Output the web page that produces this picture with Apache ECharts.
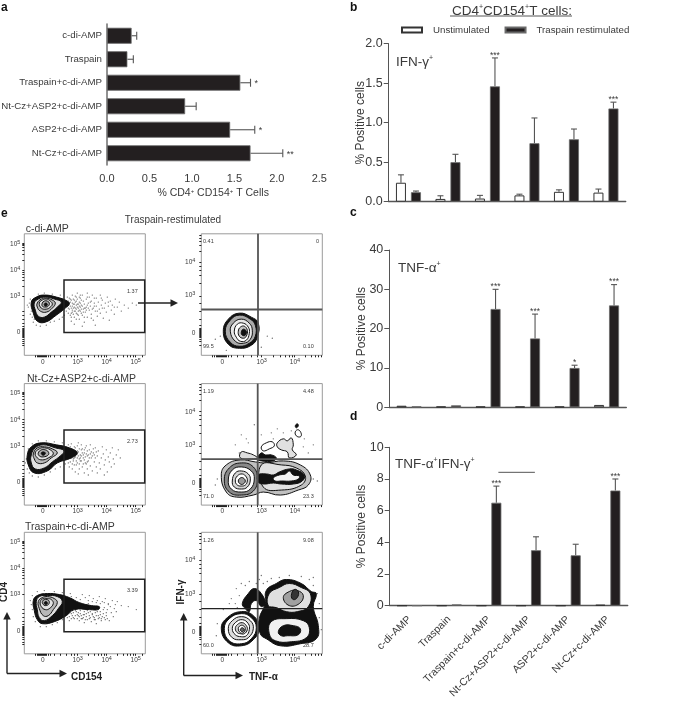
<!DOCTYPE html>
<html><head><meta charset="utf-8">
<style>html,body{margin:0;padding:0;background:#fff}#c{width:700px;height:701px}</style>
<script src="https://cdn.jsdelivr.net/npm/echarts@6/dist/echarts.min.js"></script>
</head><body><div id="c"></div>
<script>
// ---------- bar data ----------
const categories = ['c-di-AMP','Traspain','Traspain+c-di-AMP','Nt-Cz+ASP2+c-di-AMP','ASP2+c-di-AMP','Nt-Cz+c-di-AMP'];
const aValues = [0.29,0.24,1.57,0.92,1.45,1.69];
const aErrTop = [0.35,0.31,1.69,1.05,1.74,2.07];
const aStars  = ['','','*','','*','**'];
const bUnstim = [0.24,0.035,0.04,0.08,0.125,0.115];
const bUnstimTop = [0.34,0.075,0.08,0.095,0.15,0.16];
const bStim   = [0.12,0.50,1.46,0.74,0.79,1.18];
const bStimTop= [0.135,0.60,1.82,1.06,0.92,1.26];
const bStars  = ['','','***','','','***'];
const cUnstim = [0.4,0.2,0.2,0.2,0.2,0.6];
const cUnstimTop = [0.4,0.2,0.2,0.2,0.2,0.6];
const cStim   = [0.25,0.5,25,17.5,10,25.9];
const cStimTop= [0.25,0.5,30,23.7,10.7,31.2];
const cStars  = ['','','***','***','*','***'];
const dUnstim = [0,0,0,0,0,0.06];
const dUnstimTop = [0,0,0,0,0,0.06];
const dStim   = [0,0.08,6.5,3.5,3.18,7.27];
const dStimTop= [0,0.08,7.55,4.35,3.88,8.0];
const dStars  = ['','','***','','','***'];
const dBracket = [[2.24,8.42],[3.16,8.42]];

// ---------- flow plot data (display channel units, 0-121) ----------
const leftXTicks = [18.4,53.4,82.4,111.4];
const leftYTicks = [23,59,85,111];
const rightXTicks = [21,60.4,93.7];
const rightYTicks = [22,59.6,93];
const tickText = ['0','10{s|3}','10{s|4}','10{s|5}'];
const leftXMinor = [11,13,14,15,16,17,18,19,20,21,22,24,26,30,36,42,47,50,53,64,70,74,77,80,82,93,99,103,106,109,111,118];
const leftYMinor = [10,12,14,16,18,19,20,21,22,23,24,25,26,27,29,32,36,40,44,59,69,75,78,81,83,85,95,101,105,108,110,111,112];
const rightXMinor = [11,13,15,16,17,18,19,20,21,22,23,24,25,27,30,36,42,50,56,60,72,79,84,88,91,93,104,110,114,117,120];
const rightYMinor = [10,14,16,18,19,20,21,22,23,24,25,26,27,30,36,44,52,59,72,80,85,89,93,104,110,114,117,120];

const gateA = [[39.7,22.6],[120.4,75]];
const gateB = [[39.7,22],[120.4,74.7]];
const gateC = [[39.7,22],[120.4,74.3]];
const quadD = [56.7,45.6];
const quadE = [56.4,45.7];
const quadF = [56.4,45];

const contourA = [
 [7,53,12,58,20,60,32,58,43,54,45,51,41,47,32,40,21,33,13,34,9,42],
 [10,52,14,56,21,58,30,56,37,53,33,48,27,43,20,38,14,39,11,45],
 [13,52,17,56,22,57,28,55,31,52,28,47,22,43,16,44,13,48],
 [15,52,18,55,22,56,26,54,28,51,26,48,22,46,17,47],
 [18,52,20,54,23,54,25,52,24,49,21,48,18,49],
 [20,51,22,52,23,50,21,49]];
const toneA = ['#111','#e0e0e0','#b8b8b8','#e2e2e2','#aaa','#111'];
const contourB = [
 [3,50,7,58,17,62,32,60,45,57,53,52,47,47,33,42,23,34,10,32,4,40],
 [7,50,11,57,19,60,31,57,40,54,36,49,28,43,20,37,11,36,7,42],
 [9,51,13,57,20,58,28,56,33,52,27,47,20,42,13,42,10,46],
 [11,52,15,56,20,57,26,55,29,51,24,47,18,45,13,47],
 [14,52,17,55,21,55,24,53,24,50,19,48,15,49],
 [17,52,19,53,21,52,20,50,18,50]];
const toneB = ['#111','#e0e0e0','#b8b8b8','#e2e2e2','#aaa','#111'];
const contourC = [
 [9,53,13,58,23,60,35,59,45,56,55,51,67,48,75,47,74,44,65,44,50,44,42,38,30,32,18,30,13,34,10,43],
 [12,52,15,57,23,58,33,57,38,52,34,45,28,38,20,33,15,36,13,44],
 [14,52,18,56,23,57,30,55,33,51,29,44,24,38,19,38,15,45],
 [16,52,19,55,23,55,27,54,29,50,25,45,21,44,17,47],
 [18,52,20,54,23,54,25,52,24,49,21,48,19,49],
 [20,51,22,52,23,50,21,49]];
const toneC = ['#111','#e0e0e0','#b8b8b8','#e2e2e2','#aaa','#111'];
const contourD = [
 [22,24,27,36,38,42,50,38,57,32,56,18,50,10,38,7,27,11],
 [24,24,29,35,38,40,49,36,54,30,54,19,48,12,38,9,29,13],
 [29,24,32,32,40,36,48,32,51,25,49,16,42,12,34,14],
 [33,24,36,31,42,32,47,28,48,22,45,15,39,14,35,18],
 [37,24,39,28,43,29,46,25,45,19,42,17,38,19],
 [40,23,42,26,45,24,44,20,41,20]];
const toneD = ['#111','#aaa','#e8e8e8','#fff','#c4c4c4','#111'];
const contourE = [
 [20,30,25,40,39,45,54,43,65,42,82,44,99,40,109,30,107,20,97,15,79,10,62,13,52,10,35,8,25,13],
 [60,40,80,40,95,37,104,29,100,20,80,15,62,18],
 [23,25,28,37,40,42,52,38,56,26,52,14,40,10,28,13],
 [27,25,31,35,40,38,50,34,53,26,49,16,40,13,30,16],
 [31,24,34,32,40,34,47,31,49,25,46,18,40,16,33,18],
 [34,24,36,29,41,31,45,28,46,24,44,20,40,19,36,20],
 [37,24,39,27,42,27,44,24,42,21,39,21],
 [57,30,65,31,72,30,78,33,88,36,95,35,103,30,101,24,92,21,80,21,72,22,62,21,57,23],
 [72,27,78,30,84,31,88,34,92,30,98,29,97,26,90,24,80,24,74,24],
 [39,47,40,53,46,52,52,50,56,47,50,46],
 [56,46,60,52,64,50,70,50,75,47,72,44,60,44],
 [60,58,65,62,71,63,73,59,68,56,62,54],
 [76,62,82,66,86,64,90,67,92,60,91,55,95,50,88,47,86,53,80,55,76,58],
 [95,69,94,73,97,75,100,71,99,68],
 [94,79,96,81,97,79,95,77]];
const toneE = ['#c0c0c0','#e2e2e2','#888','#fff','#d4d4d4','#fff','#999','#111','#f4f4f4','#ddd','#111','#fff','#e0e0e0','#fff','#111'];
const contourF = [
 [58,35,64,50,65,63,75,70,85,74,100,70,110,62,115,60,112,47,117,28,115,15,99,10,79,8,65,15,59,20],
 [67,48,68,60,78,66,88,70,100,66,109,60,107,47,96,42,85,42,75,46],
 [82,56,88,62,96,63,102,58,98,50,88,48],
 [90,58,93,64,97,62,96,56,92,54],
 [68,20,70,32,85,35,102,33,108,26,105,16,90,12,74,13],
 [77,22,82,28,92,28,99,25,97,19,86,18,80,18],
 [20,25,26,36,40,42,52,38,58,26,52,14,40,8,27,11],
 [23,25,28,35,40,40,50,36,55,26,50,15,40,10,28,13],
 [27,25,31,33,40,37,49,33,52,25,47,16,40,14,31,16],
 [31,25,34,31,41,34,47,30,48,24,45,18,40,17,34,19],
 [34,25,36,29,41,31,45,28,46,24,43,20,39,20,36,21],
 [37,25,39,28,42,28,44,25,42,21,39,21],
 [39,24,41,26,43,24,41,22],
 [41,50,47,60,53,65,60,60,64,50,60,47,55,53,50,50,48,42,44,45]];
const toneF = ['#111','#e0e0e0','#a0a0a0','#333','#f0f0f0','#111','#111','#fff','#ddd','#fff','#ccc','#fff','#666','#111'];

const dotsA = [5,52,4,48,6,56,7,44,3,50,8,38,10,36,12,30,16,29,22,30,26,33,30,34,35,36,38,38,40,40,14,61,20,62,28,61,36,60,6,41,9,33,
 61,43,46,56,72,49,48,60,53,41,67,54,50,38,59,54,81,52,44,50,63,38,55,53,90,41,47,42,69,35,52,58,76,42,58,40,83,58,49,47,65,45,56,57,73,39,60,33,95,53,45,46,62,56,78,55,51,44,68,60,57,50,86,54,54,47,74,53,48,52,66,49,100,50,59,46,71,44,52,50,79,37,43,58,64,52,55,36,87,45,50,55,70,52,58,60,104,47,62,48,76,60,56,44,93,48,60,51,82,43,53,62,67,41,84,49,75,46,88,50,63,62,77,50,85,35,97,44,91,56,108,52,112,50,65,58,69,47,72,57,80,47,71,30,58,29,50,31,47,34,
 44,47,56,52,47,55,61,47,49,51,66,53,52,46,45,52,58,49,51,53,63,50,46,49,54,44,70,49,48,45,60,47,50,48,57,46,53,51,64,47,55,49,59,43,62,45,68,46,44,54,47,38,52,36,60,38,67,37,73,44,78,47,56,60,63,58,70,57,77,57,84,53,90,48,
 42,44,43,52,44,42,45,57,46,40,46,53,47,47,48,43,48,49,49,56,49,41,50,51,50,44,51,59,51,47,52,54,52,42,53,56,53,48,54,51,54,40,55,45,55,58,56,48,57,42,57,55];
const dotsB = [2,46,1,42,3,36,5,32,8,29,14,28,20,30,26,33,31,36,36,38,41,41,4,56,8,61,14,64,22,64,30,63,38,62,44,60,
 56,44,72,38,48,36,85,43,63,49,52,40,78,58,45,38,67,47,59,47,94,55,50,58,75,42,61,42,44,42,82,55,55,36,69,52,47,61,88,57,57,60,71,57,64,44,92,50,49,44,80,40,53,47,74,54,60,32,66,60,86,52,46,54,58,38,77,47,63,36,96,47,51,33,83,33,65,55,90,41,57,55,70,43,54,62,89,46,73,49,60,52,79,51,87,38,62,59,68,34,84,48,66,39,76,36,81,45,73,32,64,30,54,31,80,30,
 47,47,63,54,49,46,71,47,51,48,58,52,53,54,67,53,55,46,60,55,48,50,65,47,50,53,56,50,70,50,52,51,62,51,54,49,68,49,57,49,72,53,59,50,61,48,64,50,66,51,69,56,
 42,52,43,46,44,56,45,49,46,43,46,58,47,52,48,55,48,41,49,54,50,47,50,40,51,57,52,44,53,59,53,42,54,53,55,56,55,41,56,47,57,44,58,56,59,41,60,45,61,57,62,41,63,43];
const dotsC = [7,49,8,44,6,53,9,37,11,32,16,27,22,27,28,29,33,31,38,34,8,58,13,62,20,63,30,62,38,61,46,60,
 60,42,47,57,73,53,53,35,66,42,45,33,84,50,58,59,71,41,49,41,90,45,55,33,78,52,43,36,62,40,87,41,51,38,69,55,56,54,76,42,63,34,92,42,48,38,81,55,65,58,52,56,89,37,75,57,60,31,70,36,83,44,46,48,67,32,79,40,54,41,85,33,61,56,72,30,91,49,57,38,74,38,65,38,44,54,86,47,77,35,93,52,59,36,82,38,64,53,88,53,68,40,80,46,97,48,104,47,112,44,
 47,40,62,37,49,36,70,34,52,42,78,37,54,38,64,41,56,40,74,35,58,35,66,36,60,39,80,36,68,39,72,38,76,39,82,41,60,46,64,50,68,52,72,51,76,50,80,51,84,49,
 44,41,45,37,46,44,47,35,48,43,50,35,51,43,53,39,55,37,56,43,57,35,59,39,61,34,63,43,65,35,67,44,69,37,71,34,73,42,75,36,77,33,79,44,81,34,83,35];
const dotsD = [19,19,25,5,66,19,71,17,14,16,60,8];
const dotsE = [47,62,53,80,40,70,70,72,76,76,84,58,72,66,102,58,107,52,103,66,112,60,38,52,34,60,90,74,82,72,60,70,45,66,14,20,16,26,112,26,116,24];
const dotsF = [35,65,30,55,40,70,48,72,55,70,58,74,62,70,70,75,78,76,88,78,100,77,108,74,112,68,116,60,112,76,34,50,38,58,44,68,50,62,36,46,28,50,22,44,118,50,118,36,120,24,16,30,15,18,60,78,66,72];

// ---------- helpers ----------
const INK = '#3a3a3a', AXIS = '#555';
const grids = [], xAxes = [], yAxes = [], series = [];
function errSeries(gi, tops, vals, off, stars, horiz){
  return {type:'custom', xAxisIndex:gi, yAxisIndex:gi, z:1, silent:true, clip:false,
    data: vals.map((v,i)=>horiz?[v,i,tops[i]]:[i,v,tops[i]]),
    encode: {x:0,y:1},
    renderItem(p,api){
      const i = p.dataIndex, v = vals[i], t = tops[i], kids = [];
      const line = {stroke:'#555', lineWidth:1.1};
      if(horiz){
        const a = api.coord([v,i]), b = api.coord([t,i]);
        kids.push({type:'line',shape:{x1:a[0],y1:a[1],x2:b[0],y2:b[1]},style:line});
        kids.push({type:'line',shape:{x1:b[0],y1:b[1]-4,x2:b[0],y2:b[1]+4},style:line});
        if(stars[i]) kids.push({type:'text',style:{x:b[0]+4,y:b[1]+1,text:stars[i],font:'9px "Liberation Sans"',fill:INK,verticalAlign:'middle'}});
      } else {
        const a = api.coord([i,v]), b = api.coord([i,t]);
        if(t>v){
          kids.push({type:'line',shape:{x1:a[0]+off,y1:a[1],x2:b[0]+off,y2:b[1]},style:line});
          kids.push({type:'line',shape:{x1:b[0]+off-3,y1:b[1],x2:b[0]+off+3,y2:b[1]},style:line});
        }
        if(stars[i]) kids.push({type:'text',style:{x:b[0]+off,y:b[1]+2,text:stars[i],font:'8.5px "Liberation Sans"',fill:INK,align:'center',verticalAlign:'bottom'}});
      }
      return {type:'group',children:kids};
    }};
}
function vertPanel(gi, box, vmax, interval, un, unTop, st, stTop, stars, showLabels, nameGap){
  grids.push({left:box[0],top:box[1],width:box[2],height:box[3],outerBoundsMode:'none'});
  xAxes.push({gridIndex:gi,type:'category',data:categories,
    axisLine:{lineStyle:{color:AXIS,width:1.4}},
    axisTick:{alignWithLabel:true,length:5,lineStyle:{color:AXIS,width:1}},
    axisLabel: showLabels?{show:true,interval:0,rotate:45,fontFamily:'Liberation Sans',fontSize:10.5,color:INK,margin:12}:{show:false}});
  yAxes.push({gridIndex:gi,type:'value',min:0,max:vmax,interval:interval,
    name:'% Positive cells',nameLocation:'middle',nameGap:nameGap,nameMoveOverlap:false,
    nameTextStyle:{fontFamily:'Liberation Sans',fontSize:12,color:INK},
    axisLine:{show:true,lineStyle:{color:AXIS,width:1}},
    axisTick:{show:true,length:5,lineStyle:{color:AXIS}},
    splitLine:{show:false},
    axisLabel:{fontFamily:'Liberation Sans',fontSize:12.5,color:INK,margin:6,
      formatter:v=>vmax===2?v.toFixed(1):String(v)}});
  series.push({type:'bar',name:'Unstimulated',xAxisIndex:gi,yAxisIndex:gi,data:un,barWidth:10,barGap:'50%',z:2,
    itemStyle:{color:'#fff',borderColor:'#333',borderWidth:1}});
  series.push({type:'bar',name:'Traspain restimulated',xAxisIndex:gi,yAxisIndex:gi,data:st,barWidth:10,z:2,
    itemStyle:{color:'#231f20',borderColor:'#6a6a6a',borderWidth:0.8}});
  series.push(errSeries(gi,unTop,un,-7.5,['','','','','',''],false));
  series.push(errSeries(gi,stTop,st,7.5,stars,false));
}
function flowPanel(gi, box, xT, yT, xMinor, yMinor, yMargin, dots, contour, tones, overlay){
  grids.push({left:box[0],top:box[1],width:121,height:121.5,show:true,borderColor:'#9a9a9a',borderWidth:1,backgroundColor:'#fff',outerBoundsMode:'none'});
  const tickFmt = arr => v => { const k = arr.findIndex(a=>Math.abs(a-v)<1e-6); return k<0?'':tickText[k]; };
  const lab = {fontFamily:'Liberation Sans',fontSize:6.5,color:INK,lineHeight:9,
    rich:{s:{fontSize:5.5,verticalAlign:'top',lineHeight:9,fontFamily:'Liberation Sans',color:INK}}};
  xAxes.push({gridIndex:gi,type:'value',min:0,max:121,axisLine:{show:false},splitLine:{show:false},
    axisTick:{show:true,length:2,customValues:xMinor,lineStyle:{color:'#222',width:1}},
    axisLabel:Object.assign({margin:2,customValues:xT,formatter:tickFmt(xT)},lab)});
  yAxes.push({gridIndex:gi,type:'value',min:0,max:121,axisLine:{show:false},splitLine:{show:false},
    axisTick:{show:true,length:2,customValues:yMinor,lineStyle:{color:'#222',width:1}},
    axisLabel:Object.assign({margin:yMargin,customValues:yT,formatter:tickFmt(yT)},lab)});
  const pts = [];
  for(let i=0;i<dots.length;i+=2) pts.push([dots[i],dots[i+1]]);
  series.push({type:'scatter',xAxisIndex:gi,yAxisIndex:gi,data:pts,symbolSize:1.3,z:2,silent:true,
    itemStyle:{color:'#333',opacity:0.75}});
  series.push({type:'custom',xAxisIndex:gi,yAxisIndex:gi,z:3,silent:true,clip:false,
    data:contour.map((c,i)=>[c[0],c[1],i]),encode:{x:0,y:1},
    renderItem(p,api){
      const c = contour[p.dataIndex], pp = [];
      for(let i=0;i<c.length;i+=2) pp.push(api.coord([c[i],c[i+1]]));
      return {type:'polygon',shape:{points:pp,smooth:0.45},
        style:{fill:tones[p.dataIndex],stroke:'#111',lineWidth:1}};
    }});
  series.push(overlay(gi));
}
function gateSeries(g){ return gi=>({type:'custom',xAxisIndex:gi,yAxisIndex:gi,z:4,silent:true,clip:false,
  data:g,encode:{x:0,y:1},
  renderItem(p,api){
    if(p.dataIndex) return null;
    const a = api.coord(g[0]), b = api.coord(g[1]);
    return {type:'rect',shape:{x:a[0],y:b[1],width:b[0]-a[0],height:a[1]-b[1]},style:{fill:'none',stroke:'#222',lineWidth:1.5}};
  }});}
function quadSeries(q,w,col){ return gi=>({type:'custom',xAxisIndex:gi,yAxisIndex:gi,z:4,silent:true,clip:false,
  data:[q],encode:{x:0,y:1},
  renderItem(p,api){
    const c = api.coord(q), t = api.coord([121,121]), o = api.coord([0,0]);
    return {type:'group',children:[
      {type:'line',shape:{x1:c[0],y1:o[1],x2:c[0],y2:t[1]},style:{stroke:'#555',lineWidth:1.8}},
      {type:'line',shape:{x1:o[0],y1:c[1],x2:t[0],y2:c[1]},style:{stroke:col,lineWidth:w}}]};
  }});}

// ---------- panel a ----------
grids.push({left:107,top:24,width:212.3,height:141,outerBoundsMode:'none'});
xAxes.push({gridIndex:0,type:'value',min:0,max:2.5,interval:0.5,splitLine:{show:false},
  name:'{a|% CD4}{s|+}{a| CD154}{s|+}{a| T Cells}',nameLocation:'middle',nameGap:23,nameMoveOverlap:false,
  nameTextStyle:{fontFamily:'Liberation Sans',color:INK,rich:{a:{fontSize:10.5,color:INK,fontFamily:'Liberation Sans'},s:{fontSize:6,color:INK,verticalAlign:'top',fontFamily:'Liberation Sans'}}},
  axisLine:{lineStyle:{color:AXIS,width:1}},
  axisTick:{length:5,lineStyle:{color:AXIS}},
  axisLabel:{fontFamily:'Liberation Sans',fontSize:11,color:INK,margin:8,formatter:v=>v.toFixed(1)}});
yAxes.push({gridIndex:0,type:'category',inverse:true,data:categories,
  axisLine:{lineStyle:{color:'#777',width:1.6}},
  axisTick:{alignWithLabel:true,length:4,lineStyle:{color:AXIS}},
  axisLabel:{interval:0,fontFamily:'Liberation Sans',fontSize:9.7,color:INK,margin:5}});
series.push({type:'bar',name:'a',xAxisIndex:0,yAxisIndex:0,data:aValues,barWidth:16,z:2,
  itemStyle:{color:'#231f20',borderColor:'#6a6a6a',borderWidth:0.8}});
series.push(errSeries(0,aErrTop,aValues,0,aStars,true));

// ---------- panels b, c, d ----------
vertPanel(1,[388.7,43.7,237,158],2,0.5,bUnstim,bUnstimTop,bStim,bStimTop,bStars,false,22);
vertPanel(2,[389.3,250,237,157.3],40,10,cUnstim,cUnstimTop,cStim,cStimTop,cStars,false,22);
vertPanel(3,[389.7,447.3,238,158.4],10,2,dUnstim,dUnstimTop,dStim,dStimTop,dStars,true,22);
// significance bracket in panel d, through its own axes
series.push({type:'custom',xAxisIndex:3,yAxisIndex:3,z:3,silent:true,clip:false,
  data:[[2,8.42]],encode:{x:0,y:1},
  renderItem(p,api){
    const c0 = api.coord([2,dBracket[0][1]]), c1 = api.coord([3,dBracket[1][1]]), band = c1[0]-c0[0];
    return {type:'line',shape:{x1:c0[0]+(dBracket[0][0]-2)*band,y1:c0[1],x2:c0[0]+(dBracket[1][0]-2)*band,y2:c0[1]},style:{stroke:'#555',lineWidth:1}};
  }});

// ---------- panel e ----------
flowPanel(4,[24.3,233.8],leftXTicks,leftYTicks,leftXMinor,leftYMinor,4,dotsA,contourA,toneA,gateSeries(gateA));
flowPanel(5,[24.3,383.6],leftXTicks,leftYTicks,leftXMinor,leftYMinor,4,dotsB,contourB,toneB,gateSeries(gateB));
flowPanel(6,[24.3,532.3],leftXTicks,leftYTicks,leftXMinor,leftYMinor,4,dotsC,contourC,toneC,gateSeries(gateC));
flowPanel(7,[201.3,233.8],rightXTicks,rightYTicks,rightXMinor,rightYMinor,6,dotsD,contourD,toneD,quadSeries(quadD,1.8,'#555'));
flowPanel(8,[201.3,383.6],rightXTicks,rightYTicks,rightXMinor,rightYMinor,6,dotsE,contourE,toneE,quadSeries(quadE,1.8,'#555'));
flowPanel(9,[201.3,532.3],rightXTicks,rightYTicks,rightXMinor,rightYMinor,6,dotsF,contourF,toneF,quadSeries(quadF,1.3,'#222'));

// ---------- annotations ----------
const FF = '"Liberation Sans"';
function txt(x,y,text,size,opt){
  return Object.assign({type:'text',z:20,silent:true,style:Object.assign({x,y,text,font:`${(opt&&opt.bold)?'bold ':''}${size}px ${FF}`,fill:(opt&&opt.fill)||INK,align:(opt&&opt.align)||'left',verticalAlign:'middle'},opt&&opt.style)},opt&&opt.el);
}
function sup(x,y,text,size,supSize){
  return {type:'text',z:20,silent:true,style:{x,y,text,verticalAlign:'middle',align:'left',fill:INK,font:`${size}px ${FF}`,
    rich:{a:{font:`${size}px ${FF}`,fill:INK,lineHeight:size+2},s:{font:`${supSize}px ${FF}`,fill:INK,verticalAlign:'top',lineHeight:size+2}}}};
}
function rule(x1,y1,x2,y2,w,col){return {type:'line',z:20,silent:true,shape:{x1,y1,x2,y2},style:{stroke:col||'#222',lineWidth:w}};}
function head(x,y,dir,s){
  const p = dir==='r'?[[x,y],[x-s*1.5,y-s*0.75],[x-s*1.5,y+s*0.75]]:[[x,y],[x-s*0.75,y+s*1.5],[x+s*0.75,y+s*1.5]];
  return {type:'polygon',z:20,silent:true,shape:{points:p},style:{fill:'#222'}};
}
const graphics = [
  txt(1,8,'a',12,{bold:true,fill:'#111'}), txt(350,8,'b',12,{bold:true,fill:'#111'}),
  txt(350,213,'c',12,{bold:true,fill:'#111'}), txt(350,417,'d',12,{bold:true,fill:'#111'}),
  txt(1,214,'e',12,{bold:true,fill:'#111'}),
  sup(452,11,'{a|CD4}{s|+}{a|CD154}{s|+}{a|T cells:}',13.5,7),
  rule(450,16,572,16,0.9,'#444'),
  sup(396,62,'{a|IFN-γ}{s|+}',13.5,7),
  sup(398,268,'{a|TNF-α}{s|+}',13.5,7),
  sup(395,464,'{a|TNF-α}{s|+}{a|IFN-γ}{s|+}',13.5,7),
  txt(173,220,'Traspain-restimulated',10,{align:'center'}),
  txt(25.7,229,'c-di-AMP',10.5), txt(27,379.5,'Nt-Cz+ASP2+c-di-AMP',10.5), txt(25,527.5,'Traspain+c-di-AMP',10.5),
  txt(127,291,'1.37',5.5), txt(127,441.5,'2.73',5.5), txt(127,590,'3.39',5.5),
  txt(203,241,'0.41',5.5), txt(316,241,'0',5.5), txt(203,346.5,'99.5',5.5), txt(303,346.5,'0.10',5.5),
  txt(203,391.5,'1.19',5.5), txt(303,391.5,'4.48',5.5), txt(203,496.5,'71.0',5.5), txt(303,496.5,'23.3',5.5),
  txt(203,540,'1.26',5.5), txt(303,540,'9.08',5.5), txt(203,645.5,'60.0',5.5), txt(303,645.5,'28.7',5.5),
  rule(138,303,172,303,1.4), head(178,303,'r',5),
  rule(7,673.5,7,619,1.4), head(7,612,'u',5), rule(7,673.5,60,673.5,1.4), head(67,673.5,'r',5),
  rule(183.7,675.5,183.7,620,1.4), head(183.7,613,'u',5), rule(183.7,675.5,236,675.5,1.4), head(243,675.5,'r',5),
  txt(71,677,'CD154',10,{bold:true,fill:'#222'}), txt(249,677,'TNF-α',10,{bold:true,fill:'#222'}),
  txt(4,592,'CD4',10,{bold:true,fill:'#222',align:'center'}),
  txt(181.7,592,'IFN-γ',10,{bold:true,fill:'#222',align:'center'})
];
// the two rotated axis captions of panel e
[graphics[graphics.length-2],graphics[graphics.length-1]].forEach(g=>{
  g.x=g.style.x; g.y=g.style.y; g.style.x=0; g.style.y=0; g.rotation=Math.PI/2;
});

const chart = echarts.init(document.getElementById('c'),null,{renderer:'canvas'});
chart.setOption({
  animation:false,backgroundColor:'#fff',
  legend:{data:['Unstimulated','Traspain restimulated'],left:401,top:25,padding:0,itemWidth:20,itemHeight:5,itemGap:15,
    textStyle:{fontFamily:'Liberation Sans',fontSize:9.7,color:INK,padding:[0,0,0,6]},icon:'rect',selectedMode:false},
  grid:grids,xAxis:xAxes,yAxis:yAxes,series:series,graphic:graphics,tooltip:{show:false}
});
</script></body></html>
